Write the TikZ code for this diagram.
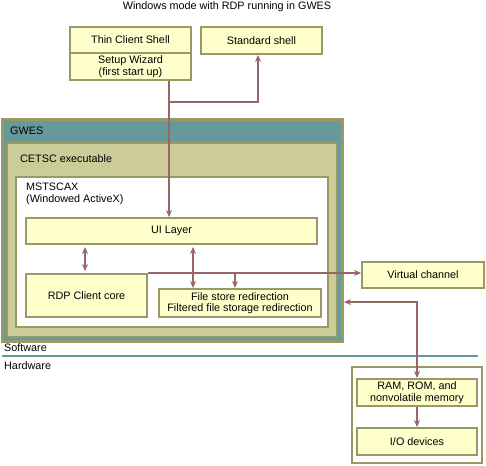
\documentclass[tikz,border=0pt]{standalone}
\usepackage{fontspec}
\setmainfont{Liberation Sans}
\usetikzlibrary{arrows.meta}
\definecolor{olivebd}{HTML}{999966}
\definecolor{tealbg}{HTML}{669999}
\definecolor{tanbg}{HTML}{CCCC99}
\definecolor{paleyel}{HTML}{FFFFCC}
\definecolor{linkcol}{HTML}{996666}
\begin{document}
\begin{tikzpicture}[x=1pt,y=-1pt,
    font=\fontsize{10.8}{11.5}\selectfont,
    box/.style={draw=olivebd,line width=2pt,fill=paleyel,inner sep=0pt,align=center},
    frame/.style={draw=olivebd,line width=2pt,inner sep=0pt},
    lbl/.style={anchor=west,inner sep=0pt,align=left},
    link/.style={draw=linkcol,line width=2pt,arrows={-Stealth[length=7pt,width=6pt]}},
    both/.style={link,arrows={Stealth[length=7pt,width=6pt]-Stealth[length=7pt,width=6pt]}}]
  \useasboundingbox (0,0) rectangle (486,465);
  \node[inner sep=0pt] (title) at (227,7) {Windows mode with RDP running in GWES};

  % shells
  \node[box,minimum width=121pt,minimum height=26pt] (thin) at (130.5,40) {Thin Client Shell};
  \node[box,minimum width=121pt,minimum height=27pt] (wizard) at (130.5,66.5) {Setup Wizard\\(first start up)};
  \node[box,minimum width=121pt,minimum height=27pt] (std) at (261.5,40.5) {Standard shell};

  % software side
  \node[frame,line width=3pt,fill=tealbg,minimum width=340pt,minimum height=222pt] (gwes) at (172.5,230.5) {};
  \node[frame,fill=tanbg,minimum width=330pt,minimum height=194pt] (cetsc) at (172,240) {};
  \node[frame,fill=white,minimum width=312pt,minimum height=150pt] (mstscax) at (172,252) {};
  \node[lbl] (gwestxt) at (10,131) {GWES};
  \node[lbl] (cetsctxt) at (20,159) {CETSC executable};
  \node[lbl] (mstxt) at (26,194) {MSTSCAX\\(Windowed ActiveX)};
  \node[box,minimum width=291pt,minimum height=26pt] (ui) at (171.5,231) {UI Layer};
  \node[box,minimum width=121pt,minimum height=43pt] (core) at (86.5,295.5) {RDP Client core};
  \node[box,minimum width=162pt,minimum height=28pt] (fs) at (240,303) {File store redirection\\Filtered file storage redirection};
  \node[box,minimum width=122pt,minimum height=26pt] (vc) at (423,274.5) {Virtual channel};

  % divider
  \node[lbl] (sw) at (4,348) {Software};
  \node[lbl] (hw) at (4,366) {Hardware};
  \coordinate (divl) at (2,356);
  \coordinate (divr) at (478,356);
  \draw[tealbg,line width=2pt] (divl) -- (divr);

  % hardware side
  \node[frame,fill=white,minimum width=130pt,minimum height=96pt] (hwbox) at (417,415) {};
  \node[box,minimum width=120pt,minimum height=27pt] (ram) at (417,392.5) {RAM, ROM, and\\nonvolatile memory};
  \node[box,minimum width=120pt,minimum height=27pt] (io) at (417,441.5) {I/O devices};

  % connectors
  \coordinate (tap) at (169,102);
  \coordinate (stdin) at (258,102);
  \coordinate (uiconn) at (85,0);
  \coordinate (fsconn) at (193,0);
  \coordinate (vcdrop) at (235,274);
  \coordinate (hwrun) at (0,302);
  \draw[link] (tap |- wizard.south) -- (tap |- ui.north);
  \draw[link] (tap) -- (stdin) -- (stdin |- std.south);
  \draw[both,shorten <=2pt,shorten >=2pt] (uiconn |- ui.south) -- (uiconn |- core.north);
  \draw[both,shorten <=2pt] (fsconn |- ui.south) -- (fsconn |- fs.north);
  \draw[link] (core.north east) -- (core.north east -| vc.west);
  \draw[link] (vcdrop) -- (vcdrop |- fs.north);
  \draw[both] (gwes.east |- hwrun) -| (ram.north);
  \draw[link] (ram) -- (io);
\end{tikzpicture}
\end{document}
